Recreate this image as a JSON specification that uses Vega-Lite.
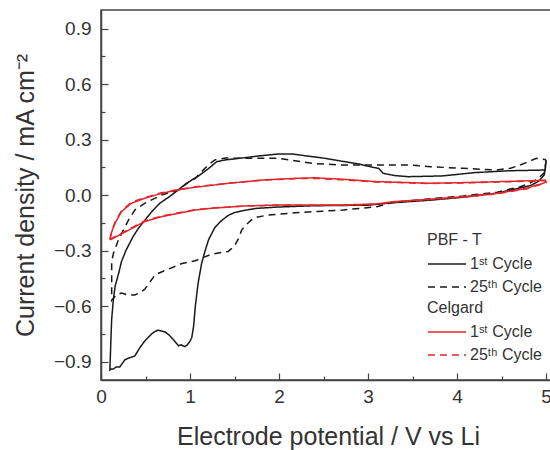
{
"$schema": "https://vega.github.io/schema/vega-lite/v6.json",
"width": 454, "height": 370,
"autosize": {"type": "none"},
"padding": {"left": 101, "top": 10, "right": 0, "bottom": 70},
"background": "white",
"config": {
  "font": "Liberation Sans",
  "view": {"stroke": "#444", "strokeWidth": 1.5},
  "axis": {"domainColor": "#444", "domainWidth": 1.5, "tickColor": "#444", "tickWidth": 1.2, "labelColor": "#333", "titleColor": "#333", "labelFontSize": 19, "titleFontSize": 25, "titleFontWeight": "normal", "grid": false},
  "legend": {"titleFontSize": 16, "titleFontWeight": "normal", "titleColor": "#333", "labelFontSize": 16, "labelColor": "#333", "symbolType": "M-1.75,0H7.75", "symbolSize": 64, "symbolStrokeWidth": 1.5, "orient": "none", "rowPadding": 7, "labelOffset": 27, "titlePadding": 8}
},
"data": {"values": [
{"s":"PBF - T","c":"1ˢᵗ Cycle","o":1,"v":5.00,"i":0.185},
{"s":"PBF - T","c":"1ˢᵗ Cycle","o":2,"v":4.98,"i":0.11},
{"s":"PBF - T","c":"1ˢᵗ Cycle","o":3,"v":4.92,"i":0.075},
{"s":"PBF - T","c":"1ˢᵗ Cycle","o":4,"v":4.82,"i":0.05},
{"s":"PBF - T","c":"1ˢᵗ Cycle","o":5,"v":4.63,"i":0.03},
{"s":"PBF - T","c":"1ˢᵗ Cycle","o":6,"v":4.45,"i":0.01},
{"s":"PBF - T","c":"1ˢᵗ Cycle","o":7,"v":4.07,"i":-0.012},
{"s":"PBF - T","c":"1ˢᵗ Cycle","o":8,"v":3.70,"i":-0.028},
{"s":"PBF - T","c":"1ˢᵗ Cycle","o":9,"v":3.28,"i":-0.042},
{"s":"PBF - T","c":"1ˢᵗ Cycle","o":10,"v":3.00,"i":-0.055},
{"s":"PBF - T","c":"1ˢᵗ Cycle","o":11,"v":2.40,"i":-0.058},
{"s":"PBF - T","c":"1ˢᵗ Cycle","o":12,"v":1.99,"i":-0.065},
{"s":"PBF - T","c":"1ˢᵗ Cycle","o":13,"v":1.75,"i":-0.072},
{"s":"PBF - T","c":"1ˢᵗ Cycle","o":14,"v":1.62,"i":-0.082},
{"s":"PBF - T","c":"1ˢᵗ Cycle","o":15,"v":1.50,"i":-0.095},
{"s":"PBF - T","c":"1ˢᵗ Cycle","o":16,"v":1.43,"i":-0.11},
{"s":"PBF - T","c":"1ˢᵗ Cycle","o":17,"v":1.35,"i":-0.14},
{"s":"PBF - T","c":"1ˢᵗ Cycle","o":18,"v":1.28,"i":-0.175},
{"s":"PBF - T","c":"1ˢᵗ Cycle","o":19,"v":1.21,"i":-0.24},
{"s":"PBF - T","c":"1ˢᵗ Cycle","o":20,"v":1.17,"i":-0.30},
{"s":"PBF - T","c":"1ˢᵗ Cycle","o":21,"v":1.13,"i":-0.37},
{"s":"PBF - T","c":"1ˢᵗ Cycle","o":22,"v":1.09,"i":-0.48},
{"s":"PBF - T","c":"1ˢᵗ Cycle","o":23,"v":1.06,"i":-0.60},
{"s":"PBF - T","c":"1ˢᵗ Cycle","o":24,"v":1.04,"i":-0.71},
{"s":"PBF - T","c":"1ˢᵗ Cycle","o":25,"v":1.02,"i":-0.77},
{"s":"PBF - T","c":"1ˢᵗ Cycle","o":26,"v":1.00,"i":-0.79},
{"s":"PBF - T","c":"1ˢᵗ Cycle","o":27,"v":0.97,"i":-0.81},
{"s":"PBF - T","c":"1ˢᵗ Cycle","o":28,"v":0.94,"i":-0.82},
{"s":"PBF - T","c":"1ˢᵗ Cycle","o":29,"v":0.90,"i":-0.81},
{"s":"PBF - T","c":"1ˢᵗ Cycle","o":30,"v":0.87,"i":-0.815},
{"s":"PBF - T","c":"1ˢᵗ Cycle","o":31,"v":0.81,"i":-0.78},
{"s":"PBF - T","c":"1ˢᵗ Cycle","o":32,"v":0.76,"i":-0.755},
{"s":"PBF - T","c":"1ˢᵗ Cycle","o":33,"v":0.72,"i":-0.74},
{"s":"PBF - T","c":"1ˢᵗ Cycle","o":34,"v":0.68,"i":-0.735},
{"s":"PBF - T","c":"1ˢᵗ Cycle","o":35,"v":0.64,"i":-0.73},
{"s":"PBF - T","c":"1ˢᵗ Cycle","o":36,"v":0.60,"i":-0.74},
{"s":"PBF - T","c":"1ˢᵗ Cycle","o":37,"v":0.57,"i":-0.75},
{"s":"PBF - T","c":"1ˢᵗ Cycle","o":38,"v":0.53,"i":-0.77},
{"s":"PBF - T","c":"1ˢᵗ Cycle","o":39,"v":0.49,"i":-0.79},
{"s":"PBF - T","c":"1ˢᵗ Cycle","o":40,"v":0.43,"i":-0.83},
{"s":"PBF - T","c":"1ˢᵗ Cycle","o":41,"v":0.38,"i":-0.87},
{"s":"PBF - T","c":"1ˢᵗ Cycle","o":42,"v":0.32,"i":-0.88},
{"s":"PBF - T","c":"1ˢᵗ Cycle","o":43,"v":0.27,"i":-0.89},
{"s":"PBF - T","c":"1ˢᵗ Cycle","o":44,"v":0.24,"i":-0.91},
{"s":"PBF - T","c":"1ˢᵗ Cycle","o":45,"v":0.21,"i":-0.93},
{"s":"PBF - T","c":"1ˢᵗ Cycle","o":46,"v":0.17,"i":-0.93},
{"s":"PBF - T","c":"1ˢᵗ Cycle","o":47,"v":0.14,"i":-0.94},
{"s":"PBF - T","c":"1ˢᵗ Cycle","o":48,"v":0.12,"i":-0.94},
{"s":"PBF - T","c":"1ˢᵗ Cycle","o":49,"v":0.10,"i":-0.946},
{"s":"PBF - T","c":"1ˢᵗ Cycle","o":50,"v":0.11,"i":-0.80},
{"s":"PBF - T","c":"1ˢᵗ Cycle","o":51,"v":0.12,"i":-0.67},
{"s":"PBF - T","c":"1ˢᵗ Cycle","o":52,"v":0.14,"i":-0.56},
{"s":"PBF - T","c":"1ˢᵗ Cycle","o":53,"v":0.16,"i":-0.49},
{"s":"PBF - T","c":"1ˢᵗ Cycle","o":54,"v":0.20,"i":-0.42},
{"s":"PBF - T","c":"1ˢᵗ Cycle","o":55,"v":0.23,"i":-0.36},
{"s":"PBF - T","c":"1ˢᵗ Cycle","o":56,"v":0.28,"i":-0.30},
{"s":"PBF - T","c":"1ˢᵗ Cycle","o":57,"v":0.36,"i":-0.225},
{"s":"PBF - T","c":"1ˢᵗ Cycle","o":58,"v":0.42,"i":-0.18},
{"s":"PBF - T","c":"1ˢᵗ Cycle","o":59,"v":0.48,"i":-0.144},
{"s":"PBF - T","c":"1ˢᵗ Cycle","o":60,"v":0.57,"i":-0.09},
{"s":"PBF - T","c":"1ˢᵗ Cycle","o":61,"v":0.66,"i":-0.045},
{"s":"PBF - T","c":"1ˢᵗ Cycle","o":62,"v":0.78,"i":-0.005},
{"s":"PBF - T","c":"1ˢᵗ Cycle","o":63,"v":0.89,"i":0.036},
{"s":"PBF - T","c":"1ˢᵗ Cycle","o":64,"v":0.96,"i":0.063},
{"s":"PBF - T","c":"1ˢᵗ Cycle","o":65,"v":1.05,"i":0.09},
{"s":"PBF - T","c":"1ˢᵗ Cycle","o":66,"v":1.11,"i":0.108},
{"s":"PBF - T","c":"1ˢᵗ Cycle","o":67,"v":1.20,"i":0.14},
{"s":"PBF - T","c":"1ˢᵗ Cycle","o":68,"v":1.30,"i":0.18},
{"s":"PBF - T","c":"1ˢᵗ Cycle","o":69,"v":1.40,"i":0.19},
{"s":"PBF - T","c":"1ˢᵗ Cycle","o":70,"v":1.50,"i":0.195},
{"s":"PBF - T","c":"1ˢᵗ Cycle","o":71,"v":1.75,"i":0.21},
{"s":"PBF - T","c":"1ˢᵗ Cycle","o":72,"v":2.00,"i":0.222},
{"s":"PBF - T","c":"1ˢᵗ Cycle","o":73,"v":2.14,"i":0.222},
{"s":"PBF - T","c":"1ˢᵗ Cycle","o":74,"v":2.30,"i":0.212},
{"s":"PBF - T","c":"1ˢᵗ Cycle","o":75,"v":2.52,"i":0.198},
{"s":"PBF - T","c":"1ˢᵗ Cycle","o":76,"v":2.70,"i":0.183},
{"s":"PBF - T","c":"1ˢᵗ Cycle","o":77,"v":2.89,"i":0.168},
{"s":"PBF - T","c":"1ˢᵗ Cycle","o":78,"v":3.05,"i":0.15},
{"s":"PBF - T","c":"1ˢᵗ Cycle","o":79,"v":3.12,"i":0.144},
{"s":"PBF - T","c":"1ˢᵗ Cycle","o":80,"v":3.17,"i":0.117},
{"s":"PBF - T","c":"1ˢᵗ Cycle","o":81,"v":3.30,"i":0.105},
{"s":"PBF - T","c":"1ˢᵗ Cycle","o":82,"v":3.45,"i":0.099},
{"s":"PBF - T","c":"1ˢᵗ Cycle","o":83,"v":3.83,"i":0.103},
{"s":"PBF - T","c":"1ˢᵗ Cycle","o":84,"v":4.20,"i":0.121},
{"s":"PBF - T","c":"1ˢᵗ Cycle","o":85,"v":4.58,"i":0.131},
{"s":"PBF - T","c":"1ˢᵗ Cycle","o":86,"v":4.99,"i":0.135},
{"s":"PBF - T","c":"1ˢᵗ Cycle","o":87,"v":5.00,"i":0.185},
{"s":"PBF - T","c":"25ᵗʰ Cycle","o":1,"v":5.00,"i":0.19},
{"s":"PBF - T","c":"25ᵗʰ Cycle","o":2,"v":4.98,"i":0.12},
{"s":"PBF - T","c":"25ᵗʰ Cycle","o":3,"v":4.90,"i":0.085},
{"s":"PBF - T","c":"25ᵗʰ Cycle","o":4,"v":4.80,"i":0.06},
{"s":"PBF - T","c":"25ᵗʰ Cycle","o":5,"v":4.71,"i":0.045},
{"s":"PBF - T","c":"25ᵗʰ Cycle","o":6,"v":4.45,"i":0.015},
{"s":"PBF - T","c":"25ᵗʰ Cycle","o":7,"v":4.07,"i":-0.005},
{"s":"PBF - T","c":"25ᵗʰ Cycle","o":8,"v":3.70,"i":-0.02},
{"s":"PBF - T","c":"25ᵗʰ Cycle","o":9,"v":3.28,"i":-0.04},
{"s":"PBF - T","c":"25ᵗʰ Cycle","o":10,"v":3.10,"i":-0.063},
{"s":"PBF - T","c":"25ᵗʰ Cycle","o":11,"v":2.72,"i":-0.081},
{"s":"PBF - T","c":"25ᵗʰ Cycle","o":12,"v":2.40,"i":-0.09},
{"s":"PBF - T","c":"25ᵗʰ Cycle","o":13,"v":2.18,"i":-0.096},
{"s":"PBF - T","c":"25ᵗʰ Cycle","o":14,"v":1.88,"i":-0.108},
{"s":"PBF - T","c":"25ᵗʰ Cycle","o":15,"v":1.75,"i":-0.12},
{"s":"PBF - T","c":"25ᵗʰ Cycle","o":16,"v":1.69,"i":-0.135},
{"s":"PBF - T","c":"25ᵗʰ Cycle","o":17,"v":1.62,"i":-0.165},
{"s":"PBF - T","c":"25ᵗʰ Cycle","o":18,"v":1.58,"i":-0.19},
{"s":"PBF - T","c":"25ᵗʰ Cycle","o":19,"v":1.54,"i":-0.24},
{"s":"PBF - T","c":"25ᵗʰ Cycle","o":20,"v":1.50,"i":-0.275},
{"s":"PBF - T","c":"25ᵗʰ Cycle","o":21,"v":1.43,"i":-0.305},
{"s":"PBF - T","c":"25ᵗʰ Cycle","o":22,"v":1.24,"i":-0.32},
{"s":"PBF - T","c":"25ᵗʰ Cycle","o":23,"v":1.06,"i":-0.355},
{"s":"PBF - T","c":"25ᵗʰ Cycle","o":24,"v":0.91,"i":-0.37},
{"s":"PBF - T","c":"25ᵗʰ Cycle","o":25,"v":0.76,"i":-0.40},
{"s":"PBF - T","c":"25ᵗʰ Cycle","o":26,"v":0.66,"i":-0.42},
{"s":"PBF - T","c":"25ᵗʰ Cycle","o":27,"v":0.61,"i":-0.43},
{"s":"PBF - T","c":"25ᵗʰ Cycle","o":28,"v":0.55,"i":-0.47},
{"s":"PBF - T","c":"25ᵗʰ Cycle","o":29,"v":0.49,"i":-0.51},
{"s":"PBF - T","c":"25ᵗʰ Cycle","o":30,"v":0.43,"i":-0.53},
{"s":"PBF - T","c":"25ᵗʰ Cycle","o":31,"v":0.38,"i":-0.54},
{"s":"PBF - T","c":"25ᵗʰ Cycle","o":32,"v":0.30,"i":-0.54},
{"s":"PBF - T","c":"25ᵗʰ Cycle","o":33,"v":0.23,"i":-0.53},
{"s":"PBF - T","c":"25ᵗʰ Cycle","o":34,"v":0.17,"i":-0.54},
{"s":"PBF - T","c":"25ᵗʰ Cycle","o":35,"v":0.12,"i":-0.57},
{"s":"PBF - T","c":"25ᵗʰ Cycle","o":36,"v":0.12,"i":-0.45},
{"s":"PBF - T","c":"25ᵗʰ Cycle","o":37,"v":0.12,"i":-0.36},
{"s":"PBF - T","c":"25ᵗʰ Cycle","o":38,"v":0.14,"i":-0.315},
{"s":"PBF - T","c":"25ᵗʰ Cycle","o":39,"v":0.19,"i":-0.25},
{"s":"PBF - T","c":"25ᵗʰ Cycle","o":40,"v":0.25,"i":-0.19},
{"s":"PBF - T","c":"25ᵗʰ Cycle","o":41,"v":0.31,"i":-0.135},
{"s":"PBF - T","c":"25ᵗʰ Cycle","o":42,"v":0.38,"i":-0.081},
{"s":"PBF - T","c":"25ᵗʰ Cycle","o":43,"v":0.49,"i":-0.045},
{"s":"PBF - T","c":"25ᵗʰ Cycle","o":44,"v":0.68,"i":0.0},
{"s":"PBF - T","c":"25ᵗʰ Cycle","o":45,"v":0.87,"i":0.027},
{"s":"PBF - T","c":"25ᵗʰ Cycle","o":46,"v":1.00,"i":0.075},
{"s":"PBF - T","c":"25ᵗʰ Cycle","o":47,"v":1.06,"i":0.09},
{"s":"PBF - T","c":"25ᵗʰ Cycle","o":48,"v":1.13,"i":0.126},
{"s":"PBF - T","c":"25ᵗʰ Cycle","o":49,"v":1.20,"i":0.16},
{"s":"PBF - T","c":"25ᵗʰ Cycle","o":50,"v":1.28,"i":0.19},
{"s":"PBF - T","c":"25ᵗʰ Cycle","o":51,"v":1.40,"i":0.20},
{"s":"PBF - T","c":"25ᵗʰ Cycle","o":52,"v":1.62,"i":0.198},
{"s":"PBF - T","c":"25ᵗʰ Cycle","o":53,"v":1.99,"i":0.198},
{"s":"PBF - T","c":"25ᵗʰ Cycle","o":54,"v":2.37,"i":0.171},
{"s":"PBF - T","c":"25ᵗʰ Cycle","o":55,"v":2.72,"i":0.162},
{"s":"PBF - T","c":"25ᵗʰ Cycle","o":56,"v":3.10,"i":0.162},
{"s":"PBF - T","c":"25ᵗʰ Cycle","o":57,"v":3.47,"i":0.162},
{"s":"PBF - T","c":"25ᵗʰ Cycle","o":58,"v":3.70,"i":0.153},
{"s":"PBF - T","c":"25ᵗʰ Cycle","o":59,"v":4.07,"i":0.144},
{"s":"PBF - T","c":"25ᵗʰ Cycle","o":60,"v":4.45,"i":0.135},
{"s":"PBF - T","c":"25ᵗʰ Cycle","o":61,"v":4.60,"i":0.145},
{"s":"PBF - T","c":"25ᵗʰ Cycle","o":62,"v":4.71,"i":0.162},
{"s":"PBF - T","c":"25ᵗʰ Cycle","o":63,"v":4.89,"i":0.198},
{"s":"PBF - T","c":"25ᵗʰ Cycle","o":64,"v":5.00,"i":0.19},
{"s":"Celgard","c":"1ˢᵗ Cycle","o":1,"v":0.10,"i":-0.243},
{"s":"Celgard","c":"1ˢᵗ Cycle","o":2,"v":0.12,"i":-0.20},
{"s":"Celgard","c":"1ˢᵗ Cycle","o":3,"v":0.157,"i":-0.153},
{"s":"Celgard","c":"1ˢᵗ Cycle","o":4,"v":0.23,"i":-0.09},
{"s":"Celgard","c":"1ˢᵗ Cycle","o":5,"v":0.34,"i":-0.045},
{"s":"Celgard","c":"1ˢᵗ Cycle","o":6,"v":0.49,"i":-0.018},
{"s":"Celgard","c":"1ˢᵗ Cycle","o":7,"v":0.68,"i":0.009},
{"s":"Celgard","c":"1ˢᵗ Cycle","o":8,"v":0.87,"i":0.028},
{"s":"Celgard","c":"1ˢᵗ Cycle","o":9,"v":1.06,"i":0.042},
{"s":"Celgard","c":"1ˢᵗ Cycle","o":10,"v":1.43,"i":0.063},
{"s":"Celgard","c":"1ˢᵗ Cycle","o":11,"v":1.81,"i":0.081},
{"s":"Celgard","c":"1ˢᵗ Cycle","o":12,"v":2.18,"i":0.09},
{"s":"Celgard","c":"1ˢᵗ Cycle","o":13,"v":2.40,"i":0.093},
{"s":"Celgard","c":"1ˢᵗ Cycle","o":14,"v":2.72,"i":0.085},
{"s":"Celgard","c":"1ˢᵗ Cycle","o":15,"v":3.10,"i":0.072},
{"s":"Celgard","c":"1ˢᵗ Cycle","o":16,"v":3.47,"i":0.067},
{"s":"Celgard","c":"1ˢᵗ Cycle","o":17,"v":3.70,"i":0.063},
{"s":"Celgard","c":"1ˢᵗ Cycle","o":18,"v":4.07,"i":0.067},
{"s":"Celgard","c":"1ˢᵗ Cycle","o":19,"v":4.45,"i":0.072},
{"s":"Celgard","c":"1ˢᵗ Cycle","o":20,"v":4.82,"i":0.077},
{"s":"Celgard","c":"1ˢᵗ Cycle","o":21,"v":4.99,"i":0.08},
{"s":"Celgard","c":"1ˢᵗ Cycle","o":22,"v":5.00,"i":0.07},
{"s":"Celgard","c":"1ˢᵗ Cycle","o":23,"v":4.95,"i":0.06},
{"s":"Celgard","c":"1ˢᵗ Cycle","o":24,"v":4.89,"i":0.054},
{"s":"Celgard","c":"1ˢᵗ Cycle","o":25,"v":4.78,"i":0.036},
{"s":"Celgard","c":"1ˢᵗ Cycle","o":26,"v":4.45,"i":0.009},
{"s":"Celgard","c":"1ˢᵗ Cycle","o":27,"v":4.07,"i":-0.009},
{"s":"Celgard","c":"1ˢᵗ Cycle","o":28,"v":3.70,"i":-0.023},
{"s":"Celgard","c":"1ˢᵗ Cycle","o":29,"v":3.28,"i":-0.036},
{"s":"Celgard","c":"1ˢᵗ Cycle","o":30,"v":3.10,"i":-0.048},
{"s":"Celgard","c":"1ˢᵗ Cycle","o":31,"v":2.72,"i":-0.054},
{"s":"Celgard","c":"1ˢᵗ Cycle","o":32,"v":2.35,"i":-0.054},
{"s":"Celgard","c":"1ˢᵗ Cycle","o":33,"v":1.99,"i":-0.054},
{"s":"Celgard","c":"1ˢᵗ Cycle","o":34,"v":1.62,"i":-0.059},
{"s":"Celgard","c":"1ˢᵗ Cycle","o":35,"v":1.24,"i":-0.072},
{"s":"Celgard","c":"1ˢᵗ Cycle","o":36,"v":1.06,"i":-0.081},
{"s":"Celgard","c":"1ˢᵗ Cycle","o":37,"v":0.87,"i":-0.099},
{"s":"Celgard","c":"1ˢᵗ Cycle","o":38,"v":0.68,"i":-0.117},
{"s":"Celgard","c":"1ˢᵗ Cycle","o":39,"v":0.49,"i":-0.144},
{"s":"Celgard","c":"1ˢᵗ Cycle","o":40,"v":0.31,"i":-0.19},
{"s":"Celgard","c":"1ˢᵗ Cycle","o":41,"v":0.157,"i":-0.229},
{"s":"Celgard","c":"1ˢᵗ Cycle","o":42,"v":0.10,"i":-0.243},
{"s":"Celgard","c":"25ᵗʰ Cycle","o":1,"v":0.10,"i":-0.24},
{"s":"Celgard","c":"25ᵗʰ Cycle","o":2,"v":0.12,"i":-0.195},
{"s":"Celgard","c":"25ᵗʰ Cycle","o":3,"v":0.157,"i":-0.148},
{"s":"Celgard","c":"25ᵗʰ Cycle","o":4,"v":0.23,"i":-0.085},
{"s":"Celgard","c":"25ᵗʰ Cycle","o":5,"v":0.34,"i":-0.04},
{"s":"Celgard","c":"25ᵗʰ Cycle","o":6,"v":0.49,"i":-0.014},
{"s":"Celgard","c":"25ᵗʰ Cycle","o":7,"v":0.68,"i":0.012},
{"s":"Celgard","c":"25ᵗʰ Cycle","o":8,"v":0.87,"i":0.03},
{"s":"Celgard","c":"25ᵗʰ Cycle","o":9,"v":1.06,"i":0.044},
{"s":"Celgard","c":"25ᵗʰ Cycle","o":10,"v":1.43,"i":0.064},
{"s":"Celgard","c":"25ᵗʰ Cycle","o":11,"v":1.81,"i":0.08},
{"s":"Celgard","c":"25ᵗʰ Cycle","o":12,"v":2.18,"i":0.088},
{"s":"Celgard","c":"25ᵗʰ Cycle","o":13,"v":2.40,"i":0.09},
{"s":"Celgard","c":"25ᵗʰ Cycle","o":14,"v":2.72,"i":0.082},
{"s":"Celgard","c":"25ᵗʰ Cycle","o":15,"v":3.10,"i":0.07},
{"s":"Celgard","c":"25ᵗʰ Cycle","o":16,"v":3.47,"i":0.065},
{"s":"Celgard","c":"25ᵗʰ Cycle","o":17,"v":3.70,"i":0.062},
{"s":"Celgard","c":"25ᵗʰ Cycle","o":18,"v":4.07,"i":0.065},
{"s":"Celgard","c":"25ᵗʰ Cycle","o":19,"v":4.45,"i":0.07},
{"s":"Celgard","c":"25ᵗʰ Cycle","o":20,"v":4.82,"i":0.075},
{"s":"Celgard","c":"25ᵗʰ Cycle","o":21,"v":4.99,"i":0.078},
{"s":"Celgard","c":"25ᵗʰ Cycle","o":22,"v":5.00,"i":0.068},
{"s":"Celgard","c":"25ᵗʰ Cycle","o":23,"v":4.95,"i":0.058},
{"s":"Celgard","c":"25ᵗʰ Cycle","o":24,"v":4.89,"i":0.05},
{"s":"Celgard","c":"25ᵗʰ Cycle","o":25,"v":4.78,"i":0.033},
{"s":"Celgard","c":"25ᵗʰ Cycle","o":26,"v":4.45,"i":0.006},
{"s":"Celgard","c":"25ᵗʰ Cycle","o":27,"v":4.07,"i":-0.011},
{"s":"Celgard","c":"25ᵗʰ Cycle","o":28,"v":3.70,"i":-0.025},
{"s":"Celgard","c":"25ᵗʰ Cycle","o":29,"v":3.28,"i":-0.038},
{"s":"Celgard","c":"25ᵗʰ Cycle","o":30,"v":3.10,"i":-0.05},
{"s":"Celgard","c":"25ᵗʰ Cycle","o":31,"v":2.72,"i":-0.056},
{"s":"Celgard","c":"25ᵗʰ Cycle","o":32,"v":2.35,"i":-0.056},
{"s":"Celgard","c":"25ᵗʰ Cycle","o":33,"v":1.99,"i":-0.055},
{"s":"Celgard","c":"25ᵗʰ Cycle","o":34,"v":1.62,"i":-0.06},
{"s":"Celgard","c":"25ᵗʰ Cycle","o":35,"v":1.24,"i":-0.07},
{"s":"Celgard","c":"25ᵗʰ Cycle","o":36,"v":1.06,"i":-0.079},
{"s":"Celgard","c":"25ᵗʰ Cycle","o":37,"v":0.87,"i":-0.096},
{"s":"Celgard","c":"25ᵗʰ Cycle","o":38,"v":0.68,"i":-0.114},
{"s":"Celgard","c":"25ᵗʰ Cycle","o":39,"v":0.49,"i":-0.14},
{"s":"Celgard","c":"25ᵗʰ Cycle","o":40,"v":0.31,"i":-0.186},
{"s":"Celgard","c":"25ᵗʰ Cycle","o":41,"v":0.157,"i":-0.225},
{"s":"Celgard","c":"25ᵗʰ Cycle","o":42,"v":0.10,"i":-0.24}
]},
"encoding": {
  "x": {"field": "v", "type": "quantitative", "scale": {"domain": [0, 5.1], "nice": false, "zero": false},
    "axis": {"title": "Electrode potential / V vs Li", "titlePadding": 18, "values": [0,0.5,1,1.5,2,2.5,3,3.5,4,4.5,5],
      "labelExpr": "datum.value % 1 === 0 ? format(datum.value, 'd') : ''", "labelPadding": 14, "labelFlush": false,
      "tickSize": {"condition": {"test": "datum.value % 1 === 0", "value": -7}, "value": -4}}},
  "y": {"field": "i", "type": "quantitative", "scale": {"domain": [-1, 1], "nice": false},
    "axis": {"title": "Current density / mA cm⁻²", "titlePadding": 15, "values": [-0.9,-0.75,-0.6,-0.45,-0.3,-0.15,0,0.15,0.3,0.45,0.6,0.75,0.9],
      "labelExpr": "abs(round(datum.value/0.3)*0.3 - datum.value) < 0.001 ? format(datum.value, '.1f') : ''", "labelPadding": 17,
      "tickSize": {"condition": {"test": "abs(round(datum.value/0.3)*0.3 - datum.value) < 0.001", "value": -7}, "value": -4}}},
  "order": {"field": "o", "type": "quantitative"}
},
"layer": [
  {"transform": [{"filter": "datum.s === 'PBF - T'"}],
   "mark": {"type": "line", "color": "#1a1a1a", "strokeWidth": 1.5},
   "encoding": {"strokeDash": {"field": "c", "type": "nominal", "scale": {"domain": ["1ˢᵗ Cycle", "25ᵗʰ Cycle"], "range": [[1, 0], [7, 5]]},
     "legend": {"title": "PBF - T", "legendX": 326, "legendY": 222}}}},
  {"transform": [{"filter": "datum.s === 'Celgard'"}],
   "mark": {"type": "line", "color": "#e3262b", "strokeWidth": 1.5},
   "encoding": {"strokeDash": {"field": "c", "type": "nominal", "scale": {"domain": ["1ˢᵗ Cycle", "25ᵗʰ Cycle"], "range": [[1, 0], [7, 5]]},
     "legend": {"title": "Celgard", "legendX": 326, "legendY": 290}}}}
],
"resolve": {"scale": {"strokeDash": "independent"}, "legend": {"strokeDash": "independent"}}
}
